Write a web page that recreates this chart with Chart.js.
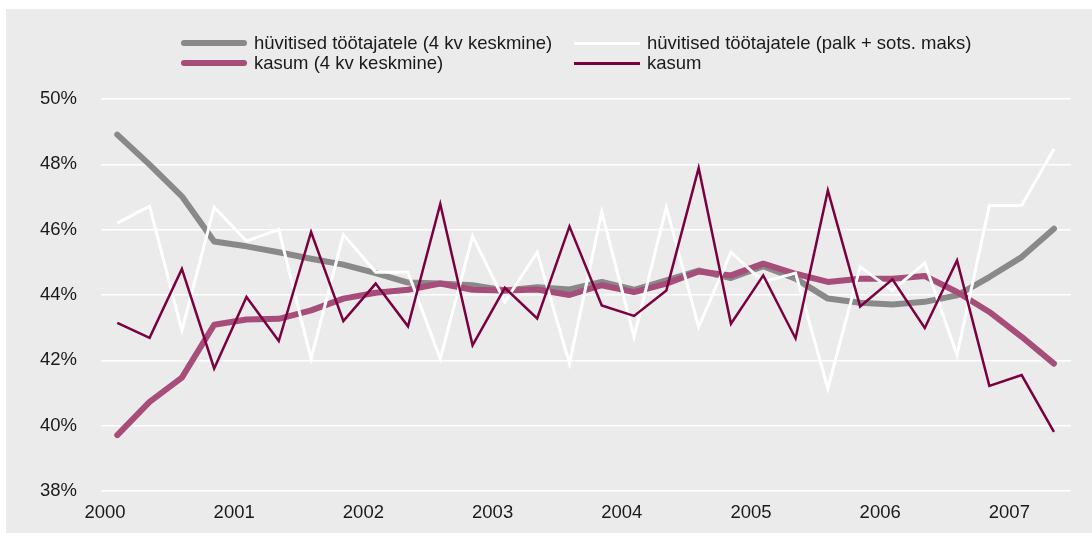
<!DOCTYPE html>
<html>
<head>
<meta charset="utf-8">
<script src="https://cdn.jsdelivr.net/npm/chart.js@4.4.1/dist/chart.umd.min.js"></script>
<style>
  html, body { margin: 0; padding: 0; background: #fff; }
  body { width: 1092px; height: 533px; position: relative; overflow: hidden; font-family: "Liberation Sans", Arial, Helvetica, sans-serif; }
  #bg { position: absolute; left: 6px; top: 9px; right: 0; bottom: 0; background: #ebebeb; }
  #chart { position: absolute; left: 0; top: 0; }
  #legend { position: absolute; left: 181px; top: 33px; display: grid; grid-template-columns: 393px 420px; row-gap: 0; font-size: 18.5px; color: #1a1a1a; }
  .item { display: flex; align-items: center; height: 20px; white-space: nowrap; }
  .swatch { display: inline-block; width: 66px; margin-right: 7px; border-radius: 4px; }
</style>
</head>
<body>
<div id="bg"></div>
<canvas id="chart" width="1092" height="533"></canvas>
<div id="legend"></div>
<script>
// kvartalid 2000 I ... 2007 II
const periods = [
  '2000 I', '2000 II', '2000 III', '2000 IV',
  '2001 I', '2001 II', '2001 III', '2001 IV',
  '2002 I', '2002 II', '2002 III', '2002 IV',
  '2003 I', '2003 II', '2003 III', '2003 IV',
  '2004 I', '2004 II', '2004 III', '2004 IV',
  '2005 I', '2005 II', '2005 III', '2005 IV',
  '2006 I', '2006 II', '2006 III', '2006 IV',
  '2007 I', '2007 II'
];
const years = [2000, 2001, 2002, 2003, 2004, 2005, 2006, 2007];
const yTicks = [38, 40, 42, 44, 46, 48, 50];

// hüvitised töötajatele (4 kv keskmine)
const huvitisedKesk = [48.91, 47.99, 47.02, 45.64, 45.49, 45.31, 45.11, 44.93, 44.67, 44.38,
  44.35, 44.30, 44.14, 44.24, 44.17, 44.40, 44.16, 44.45, 44.75, 44.52,
  44.88, 44.50, 43.89, 43.76, 43.71, 43.79, 43.99, 44.55, 45.16, 46.03];
// hüvitised töötajatele (palk + sots. maks)
const huvitised = [46.20, 46.72, 42.92, 46.69, 45.65, 46.00, 42.05, 45.85, 44.70, 44.70,
  42.05, 45.80, 43.79, 45.31, 41.90, 46.54, 42.72, 46.69, 43.02, 45.31,
  44.40, 44.67, 41.14, 44.86, 44.14, 44.98, 42.16, 46.74, 46.74, 48.47];
// kasum (4 kv keskmine)
const kasumKesk = [39.71, 40.73, 41.47, 43.09, 43.25, 43.27, 43.53, 43.89, 44.07, 44.16,
  44.35, 44.16, 44.14, 44.17, 44.00, 44.30, 44.09, 44.35, 44.72, 44.60,
  44.96, 44.65, 44.40, 44.50, 44.50, 44.58, 44.09, 43.48, 42.72, 41.90];
// kasum
const kasum = [43.15, 42.69, 44.80, 41.75, 43.94, 42.59, 45.93, 43.20, 44.35, 43.04,
  46.79, 42.46, 44.22, 43.28, 46.10, 43.68, 43.36, 44.14, 47.89, 43.12,
  44.60, 42.67, 47.20, 43.65, 44.48, 42.99, 45.06, 41.22, 41.55, 39.81];

const romans = { I: 0, II: 1, III: 2, IV: 3 };
function periodX(p) {
  const [y, q] = p.split(' ');
  return Number(y) + romans[q] / 4;
}
function toPoints(values) {
  return values.map((v, i) => ({ x: periodX(periods[i]), y: v }));
}

// aastasildid on joonisel veidi vasakul esimesest kvartalist
const labelShift = 0.095;

const series = [
  { label: 'hüvitised töötajatele (4 kv keskmine)', data: huvitisedKesk, color: '#898989', width: 6, order: 3, legendWidth: 6 },
  { label: 'hüvitised töötajatele (palk + sots. maks)', data: huvitised, color: '#ffffff', width: 3, order: 1, legendWidth: 3 },
  { label: 'kasum (4 kv keskmine)', data: kasumKesk, color: '#a64d79', width: 6, order: 2, legendWidth: 6 },
  { label: 'kasum', data: kasum, color: '#7a0040', width: 2.5, order: 0, legendWidth: 3 }
];

const datasets = series.map(s => ({
  label: s.label,
  data: toPoints(s.data),
  borderColor: s.color,
  backgroundColor: s.color,
  borderWidth: s.width,
  pointRadius: 0,
  tension: 0,
  order: s.order,
  borderCapStyle: s.width > 4 ? 'round' : 'butt',
  borderJoinStyle: s.width > 4 ? 'round' : 'miter'
}));

const font = { family: '"Liberation Sans", Arial, Helvetica, sans-serif', size: 18.5 };

new Chart(document.getElementById('chart'), {
  type: 'line',
  data: { datasets },
  options: {
    responsive: false,
    animation: false,
    layout: { padding: { top: 99, right: 21, bottom: 0, left: 0 } },
    plugins: { legend: { display: false }, tooltip: { enabled: false } },
    scales: {
      x: {
        type: 'linear',
        min: 1999.874,
        max: 2007.382,
        grid: { display: false },
        border: { display: false },
        afterBuildTicks: scale => { scale.ticks = years.map(y => ({ value: y - labelShift })); },
        afterFit: scale => { scale.height = 42; },
        ticks: {
          font, color: '#1a1a1a', padding: 3, maxRotation: 0, autoSkip: false,
          callback: (v, i) => String(years[i])
        }
      },
      y: {
        min: 38,
        max: 50,
        afterBuildTicks: scale => { scale.ticks = yTicks.map(v => ({ value: v })); },
        afterFit: scale => { scale.width = 101; },
        grid: { color: '#ffffff', lineWidth: 1.5, drawTicks: false },
        border: { display: false },
        ticks: { font, color: '#1a1a1a', padding: 24, callback: v => v + '%' }
      }
    }
  }
});

// legend kahes veerus nagu originaalis
const legend = document.getElementById('legend');
series.forEach(s => {
  const item = document.createElement('div');
  item.className = 'item';
  const sw = document.createElement('span');
  sw.className = 'swatch';
  sw.style.height = s.legendWidth + 'px';
  sw.style.background = s.color;
  if (s.legendWidth < 5) sw.style.borderRadius = '0';
  item.appendChild(sw);
  item.appendChild(document.createTextNode(s.label));
  legend.appendChild(item);
});
</script>
</body>
</html>
